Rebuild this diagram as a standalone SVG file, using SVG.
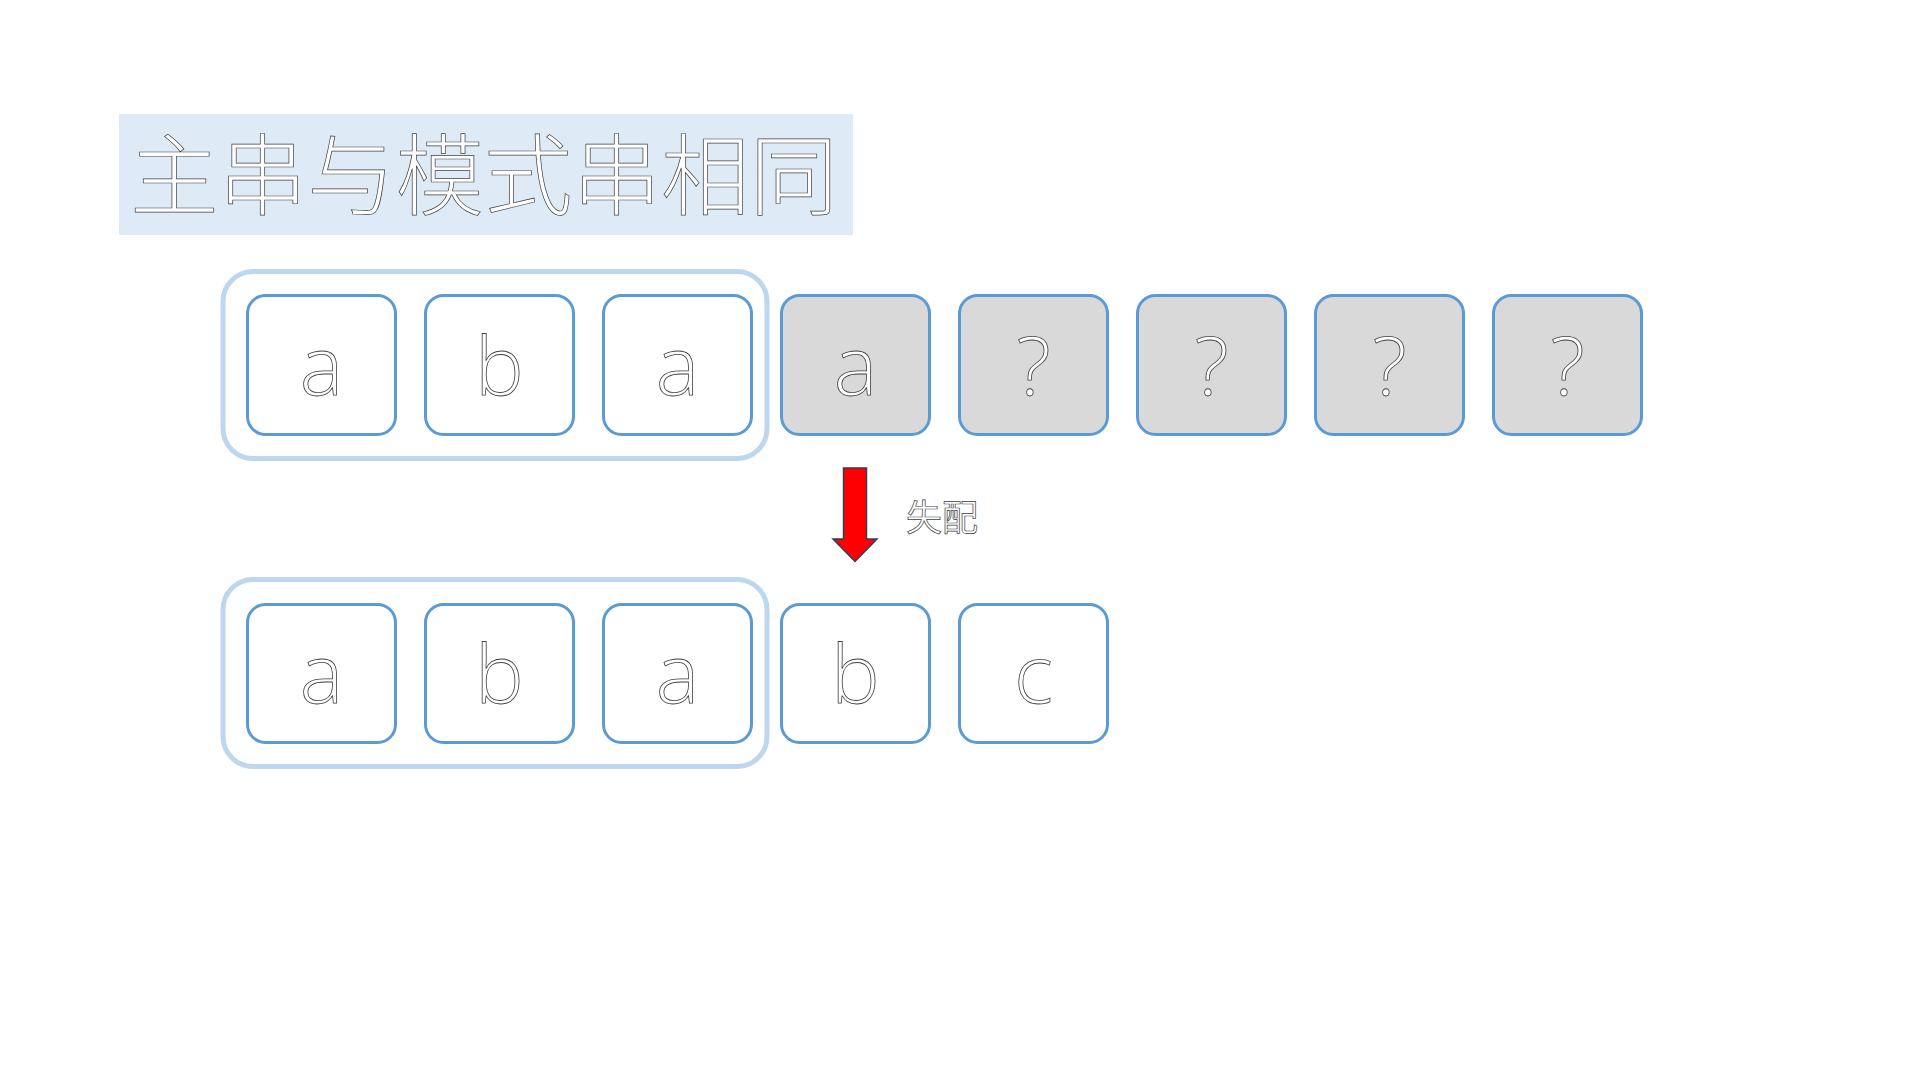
<svg xmlns="http://www.w3.org/2000/svg" width="1920" height="1080" viewBox="0 0 1920 1080">
<style>
.outer{fill:none;stroke:#BDD7EE;stroke-width:5}
.cell{fill:#FFFFFF;stroke:#5B9BD5;stroke-width:3}
.cell.gray{fill:#D9D9D9}
.ch{font-family:"Open Sans","Noto Sans",sans-serif;font-weight:300;font-size:82px;fill:#FFFFFF;stroke:#404040;stroke-width:0.8;text-anchor:middle}
.title{font-family:"Noto Sans CJK SC","Noto Sans",sans-serif;font-weight:300;font-size:88.5px;fill:#FFFFFF;stroke:#404040;stroke-width:0.7}
.lbl{font-family:"Noto Sans CJK SC","Noto Sans",sans-serif;font-size:36px;fill:#FFFFFF;stroke:#404040;stroke-width:0.7}
</style>
<rect width="1920" height="1080" fill="#FFFFFF"/>
<g id="title">
<rect x="119" y="114" width="734" height="121" fill="#DEEBF7"/>
<text class="title" x="130" y="208">主串与模式串相同</text>
</g>
<g id="main-string">
<rect class="outer" x="223" y="271.5" width="544" height="187" rx="30"/>
<g id="m0"><rect class="cell" x="247.5" y="295.5" width="148" height="139" rx="18"/><text class="ch" x="321.5" y="395">a</text></g>
<g id="m1"><rect class="cell" x="425.5" y="295.5" width="148" height="139" rx="18"/><text class="ch" x="499.5" y="395">b</text></g>
<g id="m2"><rect class="cell" x="603.5" y="295.5" width="148" height="139" rx="18"/><text class="ch" x="677.5" y="395">a</text></g>
<g id="m3"><rect class="cell gray" x="781.5" y="295.5" width="148" height="139" rx="18"/><text class="ch" x="855.5" y="395">a</text></g>
<g id="m4"><rect class="cell gray" x="959.5" y="295.5" width="148" height="139" rx="18"/><text class="ch" x="1033.5" y="395">?</text></g>
<g id="m5"><rect class="cell gray" x="1137.5" y="295.5" width="148" height="139" rx="18"/><text class="ch" x="1211.5" y="395">?</text></g>
<g id="m6"><rect class="cell gray" x="1315.5" y="295.5" width="148" height="139" rx="18"/><text class="ch" x="1389.5" y="395">?</text></g>
<g id="m7"><rect class="cell gray" x="1493.5" y="295.5" width="148" height="139" rx="18"/><text class="ch" x="1567.5" y="395">?</text></g>
</g>
<g id="connectors">
<path d="M843.5,468 L866.5,468 L866.5,539 L877,539 L855,561.5 L833,539 L843.5,539 Z" fill="#FF0000" stroke="#2F3E5B" stroke-width="1.5"/>
</g>
<g id="label">
<text class="lbl" x="906" y="531">失配</text>
</g>
<g id="pattern-string">
<rect class="outer" x="223" y="579.5" width="544" height="187" rx="30"/>
<g id="p0"><rect class="cell" x="247.5" y="604.5" width="148" height="138" rx="18"/><text class="ch" x="321.5" y="703">a</text></g>
<g id="p1"><rect class="cell" x="425.5" y="604.5" width="148" height="138" rx="18"/><text class="ch" x="499.5" y="703">b</text></g>
<g id="p2"><rect class="cell" x="603.5" y="604.5" width="148" height="138" rx="18"/><text class="ch" x="677.5" y="703">a</text></g>
<g id="p3"><rect class="cell" x="781.5" y="604.5" width="148" height="138" rx="18"/><text class="ch" x="855.5" y="703">b</text></g>
<g id="p4"><rect class="cell" x="959.5" y="604.5" width="148" height="138" rx="18"/><text class="ch" x="1033.5" y="703">c</text></g>
</g>
</svg>
